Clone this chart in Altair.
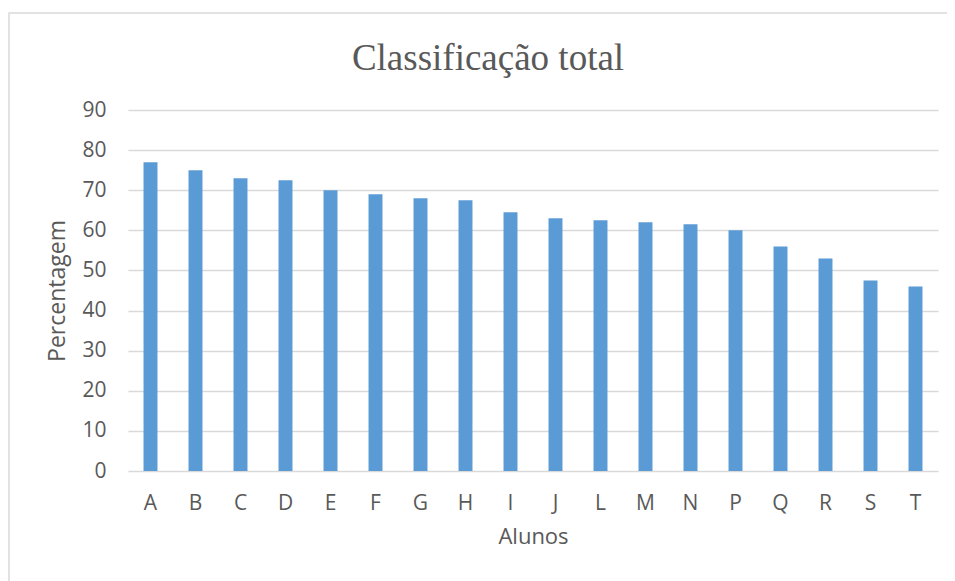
import altair as alt
import pandas as pd

alunos = ["A", "B", "C", "D", "E", "F", "G", "H", "I", "J", "L", "M", "N", "P", "Q", "R", "S", "T"]
percentagem = [77, 75, 73, 72.5, 70, 69, 68, 67.5, 64.5, 63, 62.5, 62, 61.5, 60, 56, 53, 47.5, 46]
titulo = ["Classificação total"]

df = pd.DataFrame({"Alunos": alunos, "Percentagem": percentagem})

FONT = "Open Sans"
GRAY = "#595959"

bars = alt.Chart(df).mark_bar(color="#5B9BD5").encode(
    x=alt.X("Alunos:N", sort=alunos,
            scale=alt.Scale(paddingInner=0.69, paddingOuter=0.345),
            axis=alt.Axis(title="Alunos", labelAngle=0, ticks=False, domain=False,
                          labelPadding=21, titlePadding=13, titleFontSize=22, grid=False)),
    y=alt.Y("Percentagem:Q", scale=alt.Scale(domain=[0, 90], nice=False),
            axis=alt.Axis(title="Percentagem", values=list(range(0, 91, 10)),
                          ticks=False, domain=False, labelPadding=22, titlePadding=12,
                          titleFontSize=23,
                          gridColor="#d9d9d9", gridWidth=1.5)),
)

border = alt.Chart(pd.DataFrame({"b": [0]})).mark_rect(
    fill="transparent", stroke="#d9d9d9", strokeWidth=1.5
).encode(
    x=alt.value(-119), x2=alt.value(822), y=alt.value(-97), y2=alt.value(490)
)

title = alt.Chart(pd.DataFrame({"t": titulo})).mark_text(
    font="Liberation Serif", fontSize=37, color=GRAY, align="center", baseline="alphabetic"
).encode(
    text="t:N", x=alt.value(360), y=alt.value(-40)
)

chart = alt.layer(border, bars, title).properties(
    width=810,
    height=361,
    autosize=alt.AutoSizeParams(type="none"),
    padding={"left": 120, "top": 102, "right": 9, "bottom": 110},
).configure_view(stroke=None).configure_axis(
    labelFont=FONT, titleFont=FONT, labelFontSize=21,
    labelColor=GRAY, titleColor=GRAY, titleFontWeight="normal"
)

chart.save("out.html", embed_options={"renderer": "svg", "actions": False})
